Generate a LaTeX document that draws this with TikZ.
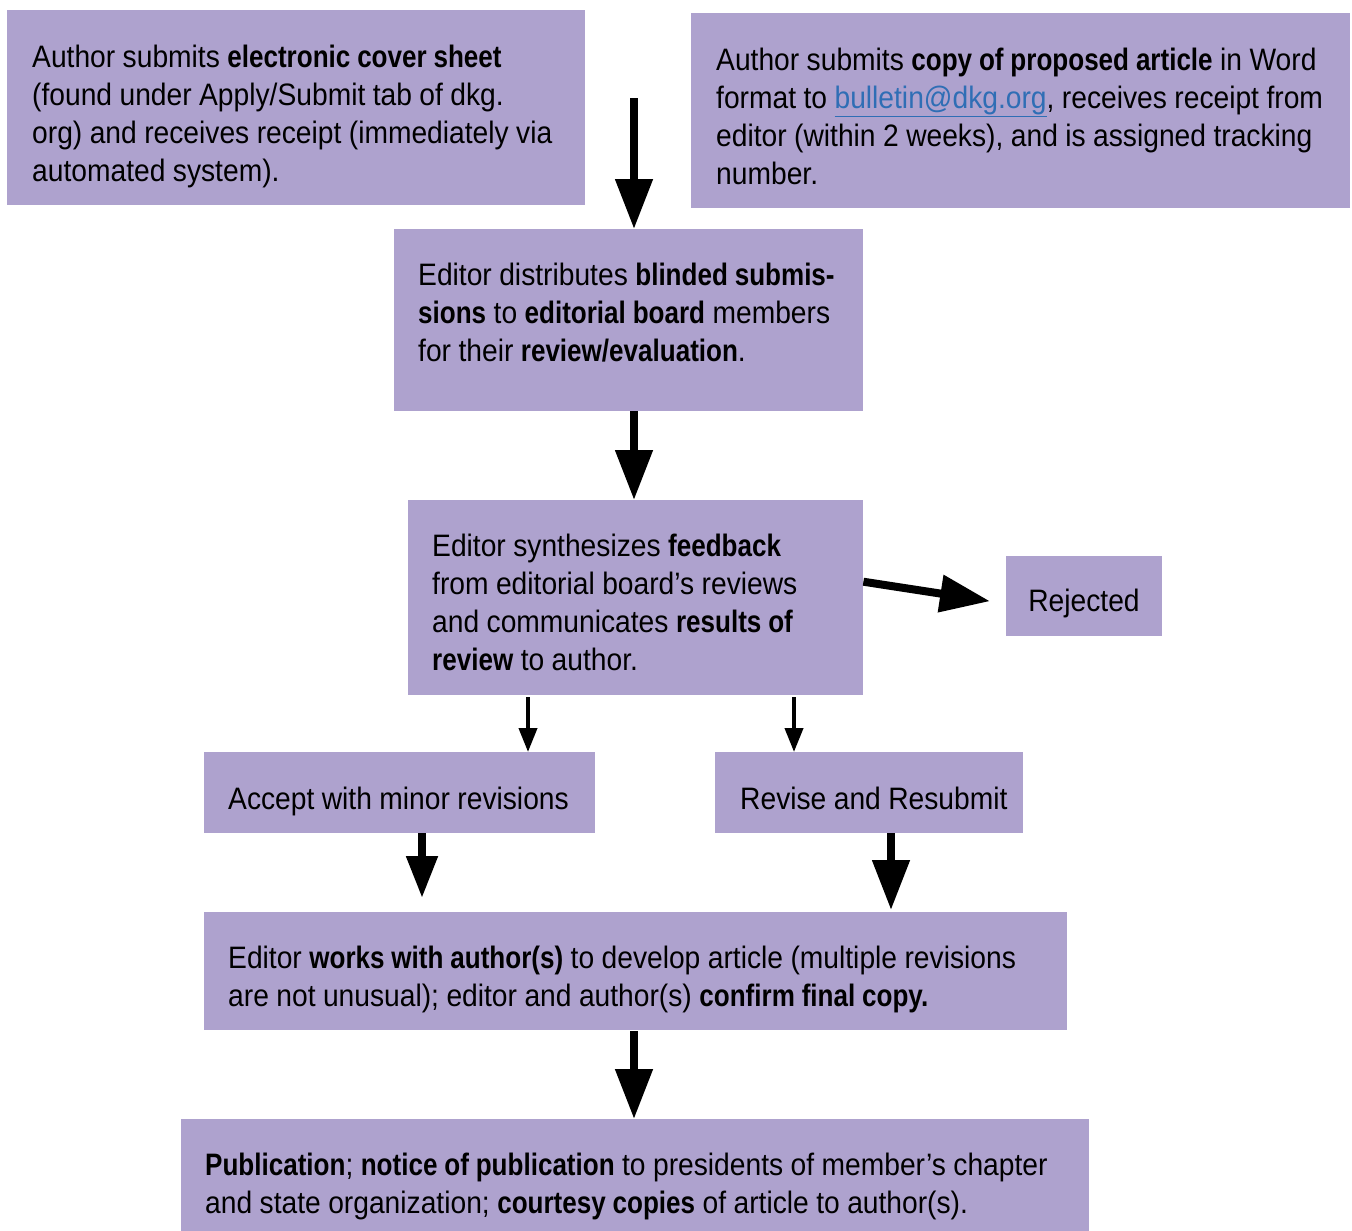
\documentclass[tikz,border=0pt]{standalone}
\usepackage{fontspec}
\setmainfont{Liberation Sans}[FakeStretch=0.91,WordSpace=0.95,BoldFeatures={FakeStretch=0.84}]
\usetikzlibrary{arrows.meta}
\definecolor{boxfill}{HTML}{AEA2CE}
\definecolor{linkblue}{HTML}{2F6EB5}
\tikzset{
  box/.style={fill=boxfill, draw=none, anchor=north west, inner sep=0pt},
  txt/.style={anchor=base west, inner sep=0pt, align=left, font=\fontsize{31}{38}\selectfont},
  bigarrow/.style={line width=8pt, -{Triangle[width=36pt,length=50pt]}},
  smallarrow/.style={line width=4pt, -{Triangle[width=18pt,length=24pt]}},
}
\newcommand{\dkglink}[1]{\textcolor{linkblue}{\underline{#1}}}
\begin{document}
\begin{tikzpicture}[x=1pt,y=-1pt]
\useasboundingbox (0,0) rectangle (1352,1231);
% boxes
\node[box, minimum width=578pt, minimum height=195pt] (A) at (7,10) {};
\node[box, minimum width=659pt, minimum height=195pt] (B) at (691,13) {};
\node[box, minimum width=469pt, minimum height=182pt] (C) at (394,229) {};
\node[box, minimum width=455pt, minimum height=195pt] (D) at (408,500) {};
\node[box, minimum width=156pt, minimum height=80pt] (R) at (1006,556) {};
\node[box, minimum width=391pt, minimum height=81pt] (Acc) at (204,752) {};
\node[box, minimum width=308pt, minimum height=81pt] (Rev) at (715,752) {};
\node[box, minimum width=863pt, minimum height=118pt] (E) at (204,912) {};
\node[box, minimum width=908pt, minimum height=112pt] (P) at (181,1119) {};
% texts (anchored at the baseline of their last line)
\node[txt] (tA) at (32,181)
  {Author submits \textbf{electronic cover sheet}\\(found under Apply/Submit tab of dkg.\\org) and receives receipt (immediately via\\automated system).};
\node[txt] (tB) at (716,184)
  {Author submits \textbf{copy of proposed article} in Word\\format to \dkglink{bulletin@dkg.org}, receives receipt from\\editor (within 2 weeks), and is assigned tracking\\number.};
\node[txt] (tC) at (418,361)
  {Editor distributes \textbf{blinded submis-}\\\textbf{sions} to \textbf{editorial board} members\\for their \textbf{review/evaluation}.};
\node[txt] (tD) at (432,670)
  {Editor synthesizes \textbf{feedback}\\from editorial board’s reviews\\and communicates \textbf{results of}\\\textbf{review} to author.};
\node[txt, anchor=base] (tR) at (1084,611) {Rejected};
\node[txt] (tAcc) at (228,809) {Accept with minor revisions};
\node[txt] (tRev) at (740,809) {Revise and Resubmit};
\node[txt] (tE) at (228,1006)
  {Editor \textbf{works with author(s)} to develop article (multiple revisions\\are not unusual); editor and author(s) \textbf{confirm final copy.}};
\node[txt] (tP) at (205,1213)
  {\textbf{Publication}; \textbf{notice of publication} to presidents of member’s chapter\\and state organization; \textbf{courtesy copies} of article to author(s).};
% connectors
\coordinate (xm) at (634,0);
\coordinate (top) at (634,98);
\coordinate (xl) at (528,0);
\coordinate (xr) at (794,0);
\coordinate (xa) at (422,0);
\coordinate (xb) at (891,0);
\draw[bigarrow] (top) -- (C.north -| xm);
\draw[bigarrow] (C.south -| xm) -- (D.north -| xm);
\draw[bigarrow] ([yshift=16pt]D.east) -- ([xshift=-16pt,yshift=-5pt]R.west);
\draw[smallarrow] ([yshift=-2pt]D.south -| xl) -- (Acc.north -| xl);
\draw[smallarrow] ([yshift=-2pt]D.south -| xr) -- (Rev.north -| xr);
\draw[bigarrow, -{Triangle[width=30pt,length=42pt]}] (Acc.south -| xa) -- ([yshift=14pt]E.north -| xa);
\draw[bigarrow] (Rev.south -| xb) -- ([yshift=2pt]E.north -| xb);
\draw[bigarrow] ([yshift=-1pt]E.south -| xm) -- (P.north -| xm);
\end{tikzpicture}
\end{document}
